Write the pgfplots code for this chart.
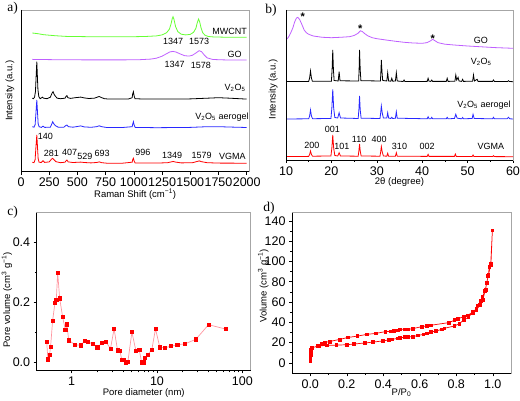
\documentclass[border=0pt]{standalone}
\usepackage{fontspec}
\setmainfont{Liberation Sans}
\newfontfamily\seriffont{Liberation Serif}
\usepackage{pgfplots}
\pgfplotsset{compat=1.18}
\definecolor{mwgreen}{RGB}{102,255,51}
\definecolor{gopurple}{RGB}{191,95,255}
\definecolor{vblue}{RGB}{40,40,255}
\definecolor{vred}{RGB}{255,0,0}
\definecolor{lpink}{RGB}{255,150,160}
\tikzset{lab/.style={font=\fontsize{9}{10}\selectfont, inner sep=0pt, anchor=center}}
\pgfplotsset{
  panel/.style={
    scale only axis, anchor=south west,
    axis line style={draw=gray!70, line width=0.6pt},
    tick align=outside, tick pos=left,
    major tick length=3pt, minor tick length=1.8pt,
    every tick/.style={black, line width=0.5pt},
    /pgf/number format/assume math mode=true,
    /pgf/number format/1000 sep={},
    tick label style={font=\fontsize{12.5}{13}\selectfont},
    label style={font=\fontsize{9.5}{10}\selectfont},
    after end axis/.code={\draw[black,line width=0.6pt] (rel axis cs:0,1) -- (rel axis cs:0,0) -- (rel axis cs:1,0);},
  },
}
\begin{document}
\begin{tikzpicture}
\useasboundingbox (0pt,0pt) rectangle (520pt,401pt);
% ---------------- panel a ----------------
\begin{axis}[panel, at={(21pt,229.3pt)}, width=228.3pt, height=161.7pt,
  xmin=0, xmax=2023, ymin=0, ymax=161.7,
  xtick={0,250,500,750,1000,1250,1500,1750,2000}, ytick=\empty,
  xlabel={Raman Shift (cm\textsuperscript{−1})}, ylabel={Intensity (a.u.)},
  xlabel style={at={(axis description cs:0.5,-0.14)}, anchor=center},
  ylabel style={at={(axis description cs:-0.048,0.5)}, anchor=center}]
\addplot[mwgreen, line width=0.8pt] coordinates {(100,138.7) (150,138) (200,137) (300,136) (400,135.3) (600,135) (800,135) (1000,135) (1100,135.2) (1200,135.8) (1250,136.8) (1290,139) (1315,142.5) (1330,148) (1340,153) (1347,155) (1355,152.5) (1370,145) (1390,140) (1420,137.5) (1460,136.8) (1500,137.3) (1530,139.5) (1550,143.5) (1562,149) (1573,152.7) (1583,150) (1595,144) (1610,139) (1630,136.5) (1660,135.2) (1700,134.8) (1800,134.5) (1900,134.4) (2000,134.4)};
\addplot[gopurple, line width=0.8pt] coordinates {(100,112.3) (300,112) (600,111.8) (900,111.8) (1050,112) (1150,112.6) (1200,113.5) (1250,115.5) (1290,118) (1320,119.8) (1347,120.3) (1375,119.6) (1410,117.8) (1450,116) (1490,115.6) (1520,116.5) (1550,118.7) (1578,121) (1600,120) (1625,116.5) (1650,113.8) (1700,112.2) (1800,111.8) (2000,111.6)};
\addplot[black, line width=0.8pt] coordinates {(100,73.5) (110,73) (120,74.5) (128,80) (134,95) (140,110) (145,96) (150,82) (158,75) (170,73) (190,74.5) (200,73.5) (230,73) (260,74.5) (275,78.5) (284,80) (295,77) (305,75.5) (320,73.5) (350,73) (390,73.5) (400,75.5) (407,76) (415,74) (440,73.3) (480,74) (500,74.2) (529,74.6) (560,73.8) (600,73.2) (650,73.5) (675,74.5) (693,75.2) (710,74.2) (740,73) (780,72.6) (850,72.6) (950,72.6) (985,74) (990,78) (996,80) (1002,76) (1010,73) (1100,72.6) (1300,72.6) (1500,72.8) (1650,73.5) (1750,74) (1850,73.5) (2000,72.6)};
\addplot[vblue, line width=0.8pt] coordinates {(100,45) (115,44.5) (125,47) (132,58) (140,71.7) (146,60) (152,48) (160,45) (180,44.3) (195,45.5) (210,44.3) (260,44.5) (272,47.5) (281,50) (290,48) (305,46) (330,44.5) (380,44.5) (395,46) (407,46.7) (420,45) (460,44.5) (500,45.2) (529,45.8) (560,44.8) (620,44.4) (670,45) (693,45.9) (715,45) (760,44.2) (900,44.2) (985,45) (990,47.5) (996,50) (1003,46.5) (1012,44.3) (1200,44) (1500,44.3) (1650,45) (1750,45) (1900,44.5) (2000,44.2)};
\addplot[vred, line width=0.8pt] coordinates {(100,9.5) (115,9) (125,12) (132,24) (140,36.7) (146,25) (152,13) (160,9.5) (180,9.2) (195,11) (210,9.3) (250,9.8) (270,12.5) (281,13.4) (292,12) (310,10) (350,9) (390,9.5) (400,11) (407,11.7) (418,9.8) (460,9.2) (500,9.4) (529,9.6) (560,9.2) (620,8.8) (670,9.2) (693,9.8) (715,9) (760,8.5) (900,8.5) (985,9.5) (990,12) (996,13.4) (1003,10.5) (1012,8.6) (1200,8.6) (1300,9) (1330,9.8) (1349,10.2) (1370,9.6) (1420,8.8) (1520,9) (1560,10.2) (1579,10.8) (1600,10) (1650,9) (1750,8.6) (2000,8.5)};
\node[lab] at (axis cs:1848,140) {MWCNT};
\node[lab] at (axis cs:1347,130) {1347};
\node[lab] at (axis cs:1579,130) {1573};
\node[lab] at (axis cs:1894,117.4) {GO};
\node[lab] at (axis cs:1362,107.4) {1347};
\node[lab] at (axis cs:1593,106.7) {1578};
\node[lab] at (axis cs:1897,83.4) {V\textsubscript{2}O\textsubscript{5}};
\node[lab] at (axis cs:1781,54.4) {V\textsubscript{2}O\textsubscript{5} aerogel};
\node[lab] at (axis cs:217,35) {140};
\node[lab] at (axis cs:269,18.4) {281};
\node[lab] at (axis cs:430,19) {407};
\node[lab] at (axis cs:567,15.7) {529};
\node[lab] at (axis cs:719,18.4) {693};
\node[lab] at (axis cs:1080,19) {996};
\node[lab] at (axis cs:1340,16) {1349};
\node[lab] at (axis cs:1601,16.7) {1579};
\node[lab] at (axis cs:1874,15.7) {VGMA};
\end{axis}
% ---------------- panel b ----------------
\begin{axis}[panel, at={(286pt,241pt)}, width=227pt, height=150pt,
  xmin=10, xmax=60, ymin=0, ymax=150,
  xtick={10,20,30,40,50,60}, minor x tick num=1, ytick=\empty,
  xlabel={2θ (degree)}, ylabel={Intensity (a.u.)},
  xlabel style={at={(axis description cs:0.5,-0.15)}, anchor=center},
  ylabel style={at={(axis description cs:-0.056,0.47)}, anchor=center}]
\addplot[gopurple, line width=0.8pt] coordinates {(10,120) (10.5,122.5) (11,126.7) (11.5,132) (11.9,138) (12.3,142) (12.6,142.7) (13,140.5) (13.5,135.5) (14,130) (14.5,127.2) (15,125.7) (16,124) (18,122.7) (20,122.3) (22,122.7) (24,123.3) (25,124.5) (25.8,126.5) (26.4,129.2) (26.8,128.5) (27.3,126.5) (28,124.2) (29,122.3) (30,121.3) (32,120) (34,118.8) (36,117.7) (38,117) (40,116.7) (41,117.3) (41.8,119) (42.3,120.7) (42.8,119.3) (43.5,117.3) (45,115.8) (47,115) (50,114) (53,113.2) (56,112.4) (60,111.7)};
\addplot[black, line width=0.8pt] coordinates {(10,78.6) (12,78.5) (15,78.6) (15.2,82) (15.4,89) (15.6,82) (15.8,78.8) (20,78.8) (20.15,90) (20.3,110) (20.45,90) (20.6,79.5) (21.5,79) (21.7,88.3) (21.9,79.2) (26,79) (26.1,90) (26.2,110) (26.35,90) (26.5,79.3) (30.8,79) (30.9,88) (31.0,100) (31.15,88) (31.3,79.5) (32.2,79) (32.4,87.3) (32.6,79) (33.1,78.8) (33.3,81.7) (33.5,78.8) (34.1,79) (34.3,87.3) (34.5,79) (35.8,78.5) (36.0,80) (36.2,78.5) (41.1,78.6) (41.3,81.7) (41.5,78.8) (41.9,78.6) (42.1,80) (42.3,78.6) (45.3,78.6) (45.5,81.7) (45.7,78.6) (47.2,78.8) (47.4,85) (47.6,80) (47.9,82.7) (48.1,79) (48.7,78.6) (48.9,80.7) (49.1,78.6) (51.1,78.8) (51.3,85) (51.5,79) (52.1,80.7) (52.3,78.6) (55.5,78.6) (55.7,80) (55.9,78.5) (58.8,78.5) (59,79.3) (59.2,78.5) (60,78.3)};
\addplot[vblue, line width=0.8pt] coordinates {(10,41) (15,41.2) (15.2,44) (15.4,50) (15.6,44) (15.85,41.3) (19.9,41.5) (20.1,52) (20.3,70.7) (20.5,52) (20.75,42.5) (21.4,42) (21.7,47.3) (22,42) (25.9,41.5) (26.05,50) (26.2,64) (26.35,50) (26.55,41.8) (30.7,41.5) (30.85,47) (31.0,54) (31.2,47) (31.45,42) (32.2,42) (32.4,47.3) (32.6,42) (33.1,41.5) (33.3,42.7) (33.5,41.5) (34.1,41.8) (34.3,48.3) (34.5,41.8) (41.1,41.2) (41.3,43.3) (41.5,41.3) (41.9,41.2) (42.1,42.7) (42.3,41.2) (45.3,41.2) (45.5,42.7) (45.7,41.2) (47.1,41.5) (47.4,45.7) (47.7,41.8) (48.7,41.2) (48.9,42.5) (49.1,41.2) (51,41.5) (51.2,45.7) (51.45,41.5) (55.5,41.2) (55.7,42.7) (55.9,41.2) (58.7,41.2) (59,42.7) (59.3,41.2) (60,41)};
\addplot[vred, line width=0.8pt] coordinates {(10,3.5) (15,3.6) (15.2,5.5) (15.4,9) (15.6,5.5) (15.85,3.8) (19.9,4) (20.1,12) (20.3,25) (20.5,12) (20.75,4.5) (21.4,4) (21.7,7.3) (22,4) (25.9,3.8) (26.05,9) (26.2,16) (26.35,9) (26.55,4) (30.7,3.8) (30.85,8) (31.0,13.3) (31.2,8) (31.45,4) (32.2,3.8) (32.4,6.7) (32.6,3.8) (34.1,3.8) (34.3,7.3) (34.5,3.8) (41.1,3.6) (41.3,5.7) (41.5,3.6) (47.1,3.6) (47.3,6) (47.5,3.6) (51,3.5) (51.2,5) (51.4,3.5) (55.5,3.4) (55.7,4.3) (55.9,3.4) (60,3.3)};
\node[lab, font=\fontsize{11}{11}\bfseries] at (axis cs:13.7,143.5) {*};
\node[lab, font=\fontsize{11}{11}\bfseries] at (axis cs:26.35,131) {*};
\node[lab, font=\fontsize{11}{11}\bfseries] at (axis cs:42.3,121.5) {*};
\node[lab] at (axis cs:52.9,120) {GO};
\node[lab] at (axis cs:53,98.3) {V\textsubscript{2}O\textsubscript{5}};
\node[lab] at (axis cs:53.6,55) {V\textsubscript{2}O\textsubscript{5} aerogel};
\node[lab] at (axis cs:55.1,13.3) {VGMA};
\node[lab] at (axis cs:15.7,14.3) {200};
\node[lab] at (axis cs:20.2,31) {001};
\node[lab] at (axis cs:22.3,13.3) {101};
\node[lab] at (axis cs:26.1,20.7) {110};
\node[lab] at (axis cs:30.5,20.7) {400};
\node[lab] at (axis cs:35,13.3) {310};
\node[lab] at (axis cs:41.1,13.3) {002};
\end{axis}
% ---------------- panel c ----------------
\begin{axis}[panel, at={(36.7pt,30.5pt)}, width=214pt, height=157.8pt,
  xmode=log, xmin=0.389, xmax=125.4, ymin=-0.027, ymax=0.5,
  xtick={1,10,100}, xticklabels={1,10,100},
  ytick={0,0.2,0.4}, minor y tick num=1,
  yticklabel style={/pgf/number format/.cd, fixed, fixed zerofill, precision=1},
  xlabel={Pore diameter (nm)}, ylabel={Pore volume (cm\textsuperscript{3} g\textsuperscript{−1})},
  xlabel style={at={(axis description cs:0.5,-0.145)}, anchor=center},
  ylabel style={at={(axis description cs:-0.139,0.447)}, anchor=center}]
\addplot[lpink, line width=0.7pt, mark=square*, mark size=1.6pt, mark options={draw=red, fill=red}] coordinates {
(0.51,0.068) (0.526,0.01) (0.55,0.026) (0.566,0.053) (0.598,0.14) (0.636,0.198) (0.66,0.209) (0.685,0.299) (0.723,0.214) (0.784,0.151) (0.843,0.108) (0.88,0.127) (0.922,0.074) (1.094,0.059) (1.287,0.057) (1.42,0.072) (1.556,0.069) (1.766,0.061) (2.0,0.05) (2.25,0.064) (2.53,0.068) (2.85,0.046) (3.14,0.112) (3.45,0.04) (3.67,0.039) (3.87,0.009) (4.05,0.009) (4.32,0.0) (4.55,0.001) (5.08,0.101) (5.66,0.039) (6.2,0.042) (6.6,0.0) (6.9,0.0) (7.2,0.015) (7.8,0.026) (8.7,0.043) (9.6,0.112) (10.8,0.05) (12.4,0.049) (14.5,0.054) (17.3,0.059) (21.3,0.062) (28.5,0.077) (40.2,0.126) (64.5,0.111)};
\end{axis}
% ---------------- panel d ----------------
\begin{axis}[panel, at={(292pt,27.7pt)}, width=219pt, height=160.6pt,
  xmin=-0.1, xmax=1.1, ymin=-10.4, ymax=148.1,
  xtick={0,0.2,0.4,0.6,0.8,1}, minor x tick num=1,
  ytick={0,20,40,60,80,100,120,140}, minor y tick num=1,
  xticklabel style={/pgf/number format/.cd, fixed, fixed zerofill, precision=1},
  xlabel={P/P\textsubscript{0}}, ylabel={Volume (cm\textsuperscript{3} g\textsuperscript{−1})},
  xlabel style={at={(axis description cs:0.5,-0.12)}, anchor=center},
  ylabel style={at={(axis description cs:-0.131,0.544)}, anchor=center}]
\addplot[red, line width=0.7pt, mark=square*, mark size=1.4pt, mark options={fill=red}] coordinates {
(0.0003,2) (0.0005,3.5) (0.0008,5) (0.001,6.5) (0.0015,8) (0.002,9.5) (0.0025,11) (0.003,12) (0.004,13) (0.006,14) (0.01,14.8) (0.042,16.5) (0.091,17.2) (0.143,17.4) (0.2,17.8) (0.24,18.5) (0.298,19.5) (0.344,20.4) (0.396,21.5) (0.43,22.5) (0.45,23.2) (0.478,24) (0.49,24.5) (0.52,25.3) (0.535,25.7) (0.564,25.8) (0.59,27) (0.62,28) (0.64,29) (0.66,30.3) (0.69,31.3) (0.72,33) (0.735,34) (0.79,36.3) (0.817,38.6) (0.84,42) (0.866,45) (0.89,49.5) (0.91,53.5) (0.92,56.7) (0.936,61) (0.943,65) (0.958,71) (0.967,79) (0.976,86.4) (0.981,95) (0.989,98) (0.998,130.7)
(0.99,97) (0.975,86) (0.96,72) (0.945,62) (0.93,57) (0.91,52) (0.89,50) (0.863,46.8) (0.84,45.5) (0.81,43.5) (0.79,42) (0.76,39.6) (0.66,37) (0.64,36.5) (0.61,35.6) (0.56,33.6) (0.535,33) (0.52,33) (0.49,33) (0.478,32) (0.46,31.5) (0.44,31) (0.412,30.7) (0.359,29) (0.31,28) (0.258,26.3) (0.207,25) (0.161,23) (0.106,21) (0.08,20) (0.064,19) (0.047,17)};
\end{axis}
\node[font=\seriffont\fontsize{13.5}{14}\selectfont] at (12.5pt,393pt) {a)};
\node[font=\seriffont\fontsize{13.5}{14}\selectfont] at (271pt,391pt) {b)};
\node[font=\seriffont\fontsize{13.5}{14}\selectfont] at (12.5pt,189pt) {c)};
\node[font=\seriffont\fontsize{13.5}{14}\selectfont] at (269pt,193pt) {d)};
\end{tikzpicture}
\end{document}
